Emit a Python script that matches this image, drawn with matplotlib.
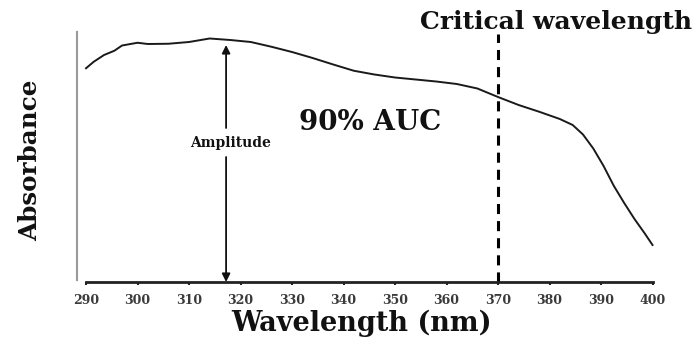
import matplotlib
matplotlib.use("Agg")
import matplotlib.pyplot as plt

# Data
wavelength = [290, 291.5, 293.5, 295.5, 297, 300, 302, 306, 310, 314, 318,
              322, 326, 330, 334, 338, 342, 346, 350, 354, 358, 362, 366,
              370, 374, 378, 382, 384.5, 386.5, 388.5, 390.5, 392.5, 394.5,
              396.5, 398.5, 400]
absorbance = [0.855, 0.881, 0.908, 0.925, 0.946, 0.957, 0.952, 0.953, 0.960,
              0.974, 0.968, 0.960, 0.941, 0.920, 0.896, 0.870, 0.845, 0.830,
              0.818, 0.810, 0.802, 0.792, 0.774, 0.740, 0.708, 0.681, 0.652,
              0.628, 0.590, 0.534, 0.464, 0.384, 0.316, 0.252, 0.194, 0.148]
x_ticks = [290, 300, 310, 320, 330, 340, 350, 360, 370, 380, 390, 400]
critical_wl = 370
amp_wl = 317.2
amp_top = 0.948

FONT = "DejaVu Serif"

fig = plt.figure(figsize=(6.97, 3.44), dpi=100)
ax = fig.add_axes([77 / 697, 62 / 344, 601 / 697, 252 / 344])
ax.set_xlim(288.25, 288.25 + 601 / 5.15)
ax.set_ylim(0, 1.008)

ax.plot(wavelength, absorbance, color="#1a1a1a", lw=1.4)

# spines
for s in ("top", "right"):
    ax.spines[s].set_visible(False)
ax.spines["left"].set_color("#9a9a9a")
ax.spines["left"].set_linewidth(1.5)
ax.spines["left"].set_bounds(0.01, 1.0)
ax.spines["bottom"].set_color("#222222")
ax.spines["bottom"].set_linewidth(2.0)
ax.spines["bottom"].set_bounds(290, 400)

ax.set_yticks([])
ax.set_xticks(x_ticks)
ax.set_xticklabels([str(t) for t in x_ticks], fontfamily=FONT,
                   fontweight="bold", fontsize=9, color="#3a3a3a")
ax.tick_params(axis="x", direction="out", length=2.5, width=1.5,
               color="#222222", pad=6)

ax.set_xlabel("Wavelength (nm)", fontfamily=FONT, fontweight="bold",
              fontsize=19.5, color="#111111")
ax.xaxis.set_label_coords(0.474, -0.11)
ax.set_ylabel("Absorbance", fontfamily=FONT, fontweight="bold",
              fontsize=17.7, color="#111111")
ax.yaxis.set_label_coords(-0.058, 0.484)

# critical wavelength dashed line
ax.plot([critical_wl, critical_wl], [0, 0.992], color="black", lw=2.2,
        dashes=(3.3, 2.3), clip_on=False)
ax.text(381.3, 1.04, "Critical wavelength", fontfamily=FONT,
        fontweight="bold", fontsize=18, ha="center", va="center",
        color="#111111", clip_on=False)

# amplitude arrow
ax.annotate("", xy=(amp_wl, amp_top), xytext=(amp_wl, 0.616),
            arrowprops=dict(arrowstyle="-|>", color="#111111", lw=1.3,
                            mutation_scale=12, shrinkA=0, shrinkB=0))
ax.annotate("", xy=(amp_wl, 0.0), xytext=(amp_wl, 0.5),
            arrowprops=dict(arrowstyle="-|>", color="#111111", lw=1.3,
                            mutation_scale=12, shrinkA=0, shrinkB=0))
ax.text(318, 0.556, "Amplitude", fontfamily=FONT, fontweight="bold",
        fontsize=10, ha="center", va="center", color="#111111")

ax.text(345.1, 0.636, "90% AUC", fontfamily=FONT, fontweight="bold",
        fontsize=20, ha="center", va="center", color="#111111")

fig.savefig("out.png", dpi=100)
